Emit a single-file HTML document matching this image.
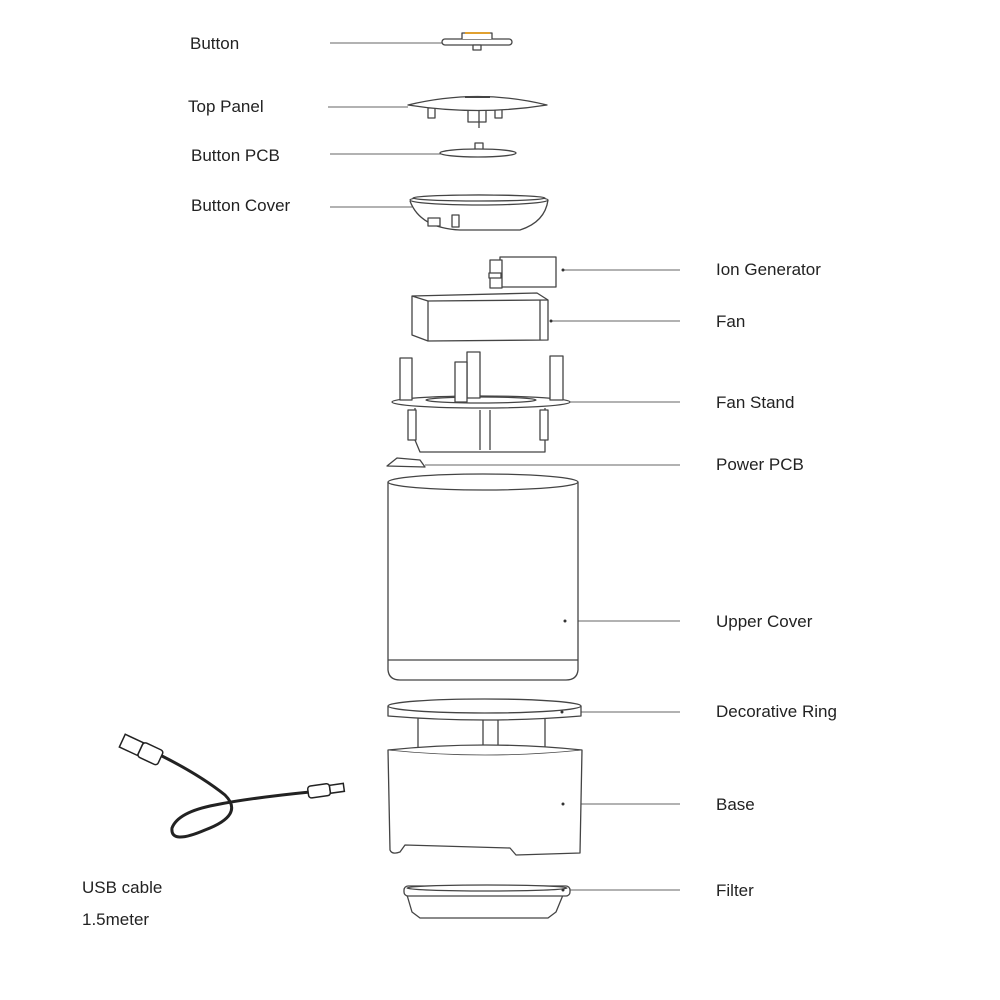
<!DOCTYPE html>
<html><head><meta charset="utf-8"><style>
html,body{margin:0;padding:0;background:#fff;width:1000px;height:1000px;overflow:hidden}
svg{display:block}
text{font-family:"Liberation Sans",sans-serif;font-size:17px;fill:#222}
</style></head><body>
<svg width="1000" height="1000" viewBox="0 0 1000 1000" xmlns="http://www.w3.org/2000/svg">
<g fill="none" stroke="#666" stroke-width="1">
<line x1="330" y1="43" x2="445" y2="43"/>
<line x1="328" y1="107" x2="408" y2="107"/>
<line x1="330" y1="154" x2="442" y2="154"/>
<line x1="330" y1="207" x2="412" y2="207"/>
<line x1="562" y1="270" x2="680" y2="270"/>
<line x1="551" y1="321" x2="680" y2="321"/>
<line x1="570" y1="402" x2="680" y2="402"/>
<line x1="425" y1="465" x2="680" y2="465"/>
<line x1="565" y1="621" x2="680" y2="621"/>
<line x1="562" y1="712" x2="680" y2="712"/>
<line x1="563" y1="804" x2="680" y2="804"/>
<line x1="563" y1="890" x2="680" y2="890"/>
</g>
<g fill="#fff" stroke="#444" stroke-width="1.3" stroke-linejoin="round">
<!-- Button -->
<rect x="442" y="39" width="70" height="6" rx="3"/>
<path d="M462 39 V33 h30 v6"/>
<line x1="465" y1="33" x2="490" y2="33" stroke="#e0a030" stroke-width="2"/>
<rect x="473" y="45" width="8" height="5"/>
<!-- Top panel -->
<rect x="428" y="108" width="7" height="10"/><rect x="495" y="108" width="7" height="10"/>
<path d="M468 110 v12 h18 v-12"/><line x1="479" y1="110" x2="479" y2="128"/>
<path d="M408 105 Q478 88 547 105 Q478 116 408 105 Z"/>
<line x1="465" y1="97" x2="490" y2="97" stroke-width="2"/>
<!-- Button PCB -->
<rect x="475" y="143" width="8" height="7"/>
<ellipse cx="478" cy="153" rx="38" ry="4"/>
<!-- Button cover -->
<path d="M410 201 Q420 228 460 230 L520 230 Q545 222 548 200"/>
<ellipse cx="479" cy="200" rx="69" ry="5"/>
<ellipse cx="479" cy="198" rx="66" ry="3"/>
<rect x="428" y="218" width="12" height="8"/>
<rect x="452" y="215" width="7" height="12"/>
<!-- Ion generator -->
<rect x="500" y="257" width="56" height="30"/>
<rect x="490" y="260" width="12" height="28"/>
<rect x="489" y="273" width="12" height="5"/>
<!-- Fan -->
<path d="M412 296 L537 293 L548 300 L548 340 L428 341 L412 335 Z"/>
<line x1="412" y1="296" x2="428" y2="301"/><line x1="428" y1="301" x2="548" y2="300"/>
<line x1="428" y1="301" x2="428" y2="341"/><line x1="540" y1="300" x2="540" y2="340"/>
<!-- Fan stand -->
<path d="M415 408 L415 440 L420 452 L545 452 L545 408"/>
<rect x="408" y="410" width="8" height="30"/><rect x="540" y="410" width="8" height="30"/>
<line x1="480" y1="410" x2="480" y2="450"/><line x1="490" y1="410" x2="490" y2="450"/>
<ellipse cx="481" cy="402" rx="89" ry="6"/>
<ellipse cx="481" cy="400" rx="55" ry="3"/>
<rect x="400" y="358" width="12" height="42"/>
<rect x="467" y="352" width="13" height="46"/>
<rect x="455" y="362" width="12" height="40"/>
<rect x="550" y="356" width="13" height="44"/>
<!-- Power PCB -->
<path d="M387 466 L397 458 L420 460 L425 467 Z"/>
<!-- Upper cover -->
<path d="M388 482 L388 670 Q389 680 400 680 L566 680 Q577 680 578 670 L578 482"/>
<line x1="388" y1="660" x2="578" y2="660"/>
<ellipse cx="483" cy="482" rx="95" ry="8"/>
<!-- Base inner -->
<rect x="418" y="718" width="127" height="40"/>
<line x1="483" y1="720" x2="483" y2="755"/><line x1="498" y1="720" x2="498" y2="755"/>
<!-- Decorative ring -->
<path d="M388 706 L388 716 Q485 724 581 716 L581 706"/>
<ellipse cx="484.5" cy="706" rx="96.5" ry="7"/>
<!-- Base -->
<path d="M388 750 L390 850 Q392 855 400 852 L405 845 L510 848 L516 855 L580 853 L582 750 Q485 740 388 750 Z"/>
<path d="M388 750 Q485 760 582 750" stroke-width="0.8"/>
<!-- Filter -->
<path d="M407 895 L412 912 L420 918 L548 918 L556 912 L563 895"/>
<rect x="404" y="886" width="166" height="10" rx="4"/>
<ellipse cx="487" cy="888" rx="80" ry="3"/>
</g>
<g fill="#333">
<circle cx="563" cy="270" r="1.5"/><circle cx="551" cy="321" r="1.5"/>
<circle cx="565" cy="621" r="1.5"/><circle cx="562" cy="712" r="1.5"/>
<circle cx="563" cy="804" r="1.5"/><circle cx="563" cy="890" r="1.5"/>
</g>
<!-- USB cable -->
<g fill="none" stroke="#222" stroke-linecap="round">
<path d="M160 755 Q200 775 225 795 Q245 815 205 830 Q170 845 172 828 Q178 812 215 805 Q250 798 310 792" stroke-width="3"/>
<g transform="rotate(25 140 750)" fill="#fff" stroke-width="1.5">
<rect x="120" y="742" width="20" height="14"/>
<rect x="140" y="741" width="22" height="16" rx="3"/>
</g>
<g transform="rotate(-8 325 790)" fill="#fff" stroke-width="1.5">
<rect x="308" y="784" width="22" height="12" rx="3"/>
<rect x="330" y="786" width="14" height="8"/>
</g>
</g>
<text x="190" y="49">Button</text>
<text x="188" y="112">Top Panel</text>
<text x="191" y="161">Button PCB</text>
<text x="191" y="211">Button Cover</text>
<text x="716" y="275">Ion Generator</text>
<text x="716" y="327">Fan</text>
<text x="716" y="408">Fan Stand</text>
<text x="716" y="470">Power PCB</text>
<text x="716" y="627">Upper Cover</text>
<text x="716" y="717">Decorative Ring</text>
<text x="716" y="810">Base</text>
<text x="716" y="896">Filter</text>
<text x="82" y="893">USB cable</text>
<text x="82" y="925">1.5meter</text>
</svg>
</body></html>
